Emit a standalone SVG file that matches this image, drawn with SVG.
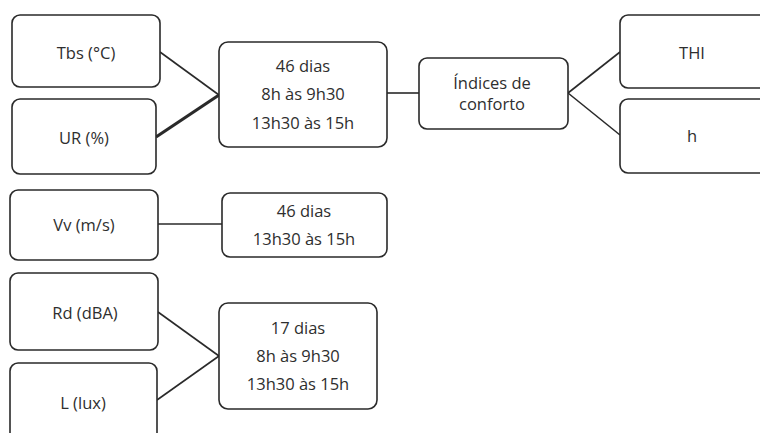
<svg xmlns="http://www.w3.org/2000/svg" width="760" height="433" viewBox="0 0 760 433">
  <style>
    .box { fill: #ffffff; stroke: #2a2a2a; stroke-width: 1.6; }
    .lbl { font-family: "Open Sans", "Liberation Sans", sans-serif; font-size: 16.5px; fill: #2e2e2e; text-anchor: middle; dominant-baseline: central; }
    .wire { stroke: #2a2a2a; stroke-width: 1.6; fill: none; }
    .wire.heavy { stroke-width: 3.2; }
  </style>
  <rect width="760" height="433" fill="#ffffff"/>

  <!-- connectors -->
  <g id="connectors">
    <line class="wire" x1="160" y1="52" x2="219" y2="95"/>
    <line class="wire heavy" x1="156" y1="137" x2="219" y2="95"/>
    <line class="wire" x1="387" y1="93" x2="419" y2="93"/>
    <line class="wire" x1="568" y1="93" x2="620" y2="52"/>
    <line class="wire" x1="568" y1="93" x2="620" y2="135"/>
    <line class="wire" x1="158" y1="224" x2="222" y2="224"/>
    <line class="wire" x1="158" y1="312" x2="219" y2="356"/>
    <line class="wire" x1="157" y1="400" x2="219" y2="356"/>
  </g>

  <g id="tbs">
    <rect class="box" x="12" y="15" width="148" height="72" rx="8"/>
    <text class="lbl" x="86" y="52">Tbs (°C)</text>
  </g>
  <g id="ur">
    <rect class="box" x="12" y="99" width="144" height="75" rx="8"/>
    <text class="lbl" x="84" y="137">UR (%)</text>
  </g>
  <g id="periodo-46-dias">
    <rect class="box" x="219" y="42" width="168" height="105" rx="9"/>
    <text class="lbl" x="303" y="65">46 dias</text>
    <text class="lbl" x="303" y="93">8h às 9h30</text>
    <text class="lbl" x="303" y="122">13h30 às 15h</text>
  </g>
  <g id="indices">
    <rect class="box" x="419" y="58" width="149" height="71" rx="8"/>
    <text class="lbl" x="492" y="82">Índices de</text>
    <text class="lbl" x="492" y="103">conforto</text>
  </g>
  <g id="thi">
    <rect class="box" x="620" y="15" width="150" height="73" rx="8"/>
    <text class="lbl" x="692" y="52">THI</text>
  </g>
  <g id="h">
    <rect class="box" x="620" y="99" width="150" height="74" rx="8"/>
    <text class="lbl" x="692" y="135">h</text>
  </g>
  <g id="vv">
    <rect class="box" x="10" y="190" width="148" height="70" rx="8"/>
    <text class="lbl" x="84" y="224">Vv (m/s)</text>
  </g>
  <g id="periodo-vv">
    <rect class="box" x="222" y="193" width="165" height="64" rx="8"/>
    <text class="lbl" x="304" y="210">46 dias</text>
    <text class="lbl" x="304" y="238">13h30 às 15h</text>
  </g>
  <g id="rd">
    <rect class="box" x="10" y="273" width="148" height="77" rx="8"/>
    <text class="lbl" x="85" y="312">Rd (dBA)</text>
  </g>
  <g id="l">
    <rect class="box" x="10" y="363" width="147" height="80" rx="8"/>
    <text class="lbl" x="83" y="402">L (lux)</text>
  </g>
  <g id="periodo-17-dias">
    <rect class="box" x="219" y="303" width="158" height="106" rx="9"/>
    <text class="lbl" x="298" y="327">17 dias</text>
    <text class="lbl" x="298" y="355">8h às 9h30</text>
    <text class="lbl" x="298" y="383">13h30 às 15h</text>
  </g>
</svg>
